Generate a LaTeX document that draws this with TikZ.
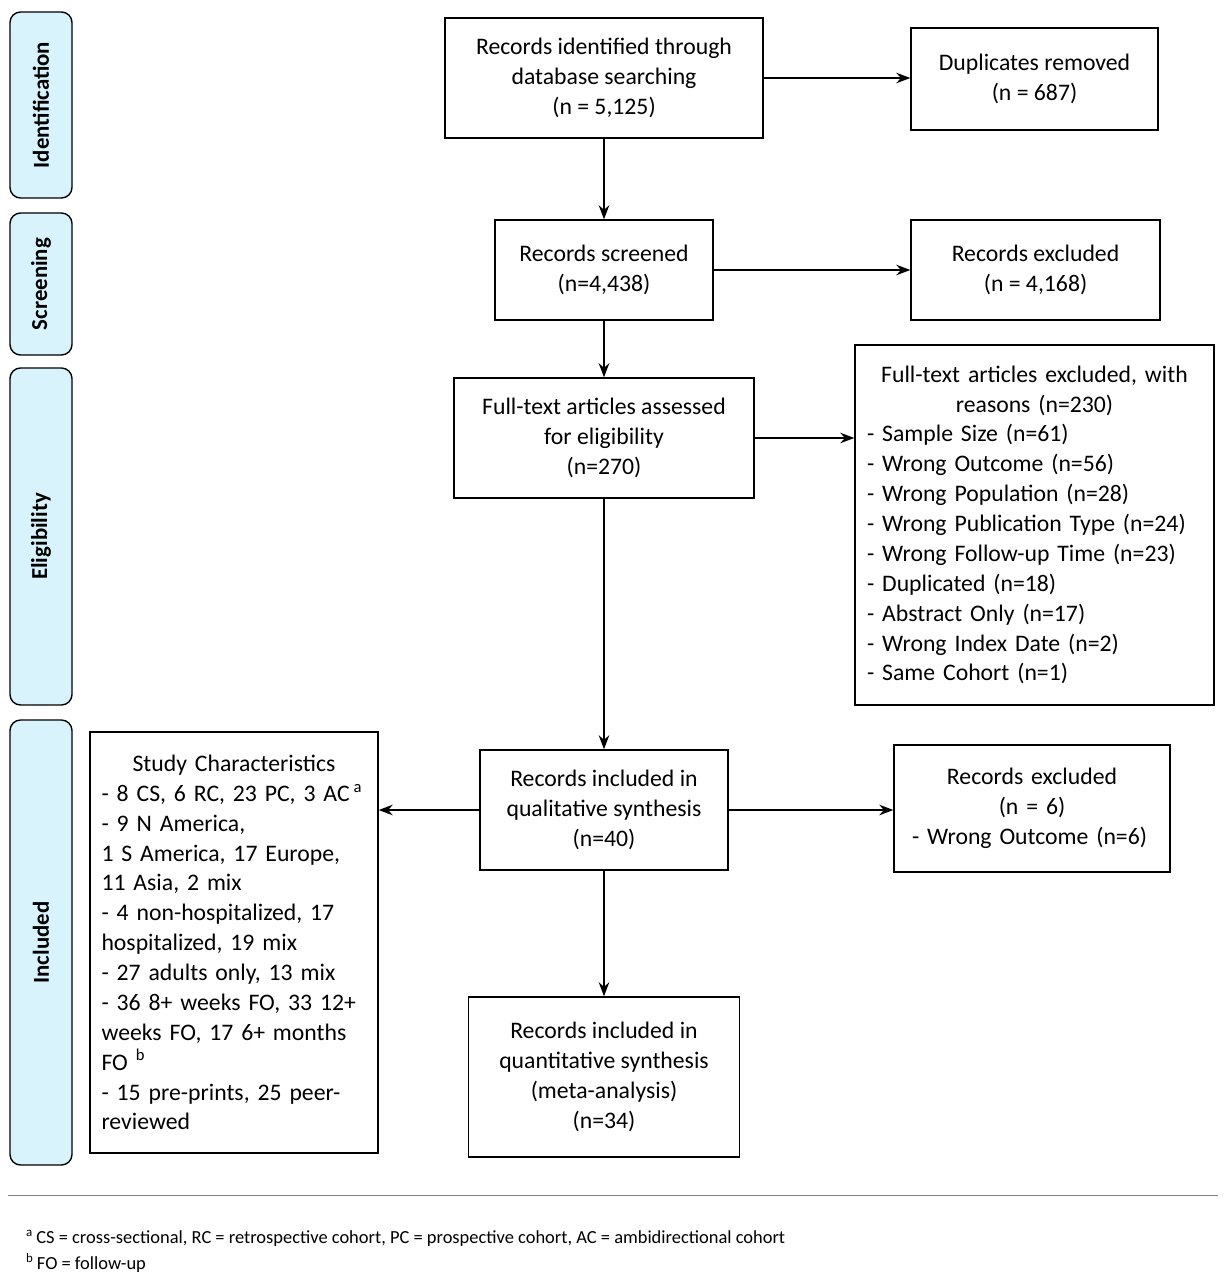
\documentclass[tikz,border=0pt]{standalone}
\usepackage{fontspec}
\setmainfont{Carlito}
\usetikzlibrary{arrows.meta}
\begin{document}
\begin{tikzpicture}[x=0.02cm,y=-0.02cm,
  box/.style={draw,thick,align=center,font=\fontsize{13.5}{17}\selectfont,inner sep=0pt},
  lbox/.style={box,align=left,font=\fontsize{13.5}{17}\selectfont\raggedright},
  stage/.style={draw,thick,rounded corners=6pt,fill=cyan!15,inner sep=0pt},
  stagetext/.style={rotate=90,font=\fontsize{13}{15}\selectfont\bfseries},
  arr/.style={thick,-{Stealth[length=8pt]}}]
\useasboundingbox (0,0) rectangle (1225,1280);

% bandes de gauche
\foreach \ya/\yb/\lbl in {12/198/Identification,213/355/Screening,368/705/Eligibility,720/1165/Included}{
  \node[stage,minimum width=62*0.02cm,minimum height={(\yb-\ya)*0.02cm}] (s\lbl) at (41,{(\ya+\yb)/2}) {};
  \node[stagetext] at (s\lbl) {\lbl};
}

% boites
\node[box,minimum width=6.36cm,minimum height=2.4cm] (ident) at (604,78)
  {Records identified through\\ database searching\\ (n = 5,125)};
\node[box,minimum width=4.94cm,minimum height=2.04cm] (dup) at (1034.5,79)
  {Duplicates removed\\ (n = 687)};
\node[box,minimum width=4.36cm,minimum height=2cm] (screen) at (604,270)
  {Records screened\\ (n=4,438)};
\node[box,minimum width=4.98cm,minimum height=2cm] (excl) at (1035.5,270)
  {Records excluded\\ (n = 4,168)};
\node[box,minimum width=6cm,minimum height=2.4cm] (full) at (604,438)
  {Full-text articles assessed\\ for eligibility\\ (n=270)};
\node[lbox,text width=6.7cm,minimum width=7.18cm,minimum height=7.2cm] (fullex) at (1034.5,525)
  {{\centering Full-text articles excluded, with\\ reasons (n=230)\par}
   - Sample Size (n=61)\\ - Wrong Outcome (n=56)\\ - Wrong Population (n=28)\\
   - Wrong Publication Type (n=24)\\ - Wrong Follow-up Time (n=23)\\ - Duplicated (n=18)\\
   - Abstract Only (n=17)\\ - Wrong Index Date (n=2)\\ - Same Cohort (n=1)};
\node[box,minimum width=4.96cm,minimum height=2.4cm] (qual) at (604,810)
  {Records included in\\ qualitative synthesis\\ (n=40)};
\node[lbox,text width=4.8cm,minimum width=5.52cm,minimum height=2.54cm] (exsix) at (1032,808.5)
  {{\centering Records excluded\\ (n = 6)\par}- Wrong Outcome (n=6)};
\node[lbox,text width=5.3cm,minimum width=5.76cm,minimum height=8.42cm] (study) at (234,942.5)
  {{\centering Study Characteristics\par}
   - 8 CS, 6 RC, 23 PC, 3 AC\,\textsuperscript{a}\\ - 9 N America,\\ 1 S America, 17 Europe,\\
   11 Asia, 2 mix\\ - 4 non-hospitalized, 17\\ hospitalized, 19 mix\\ - 27 adults only, 13 mix\\
   - 36 8+ weeks FO, 33 12+\\ weeks FO, 17 6+ months\\ FO \textsuperscript{b}\\
   - 15 pre-prints, 25 peer-\\ reviewed};
\node[box,minimum width=5.42cm,minimum height=3.2cm] (quant) at (604,1077)
  {Records included in\\ quantitative synthesis\\ (meta-analysis)\\ (n=34)};

% fleches
\draw[arr] (ident) -- (screen);
\draw[arr] (screen) -- (full);
\draw[arr] (full) -- (qual);
\draw[arr] (qual) -- (quant);
\draw[arr] (ident.east) -- (ident.east -| dup.west);
\draw[arr] (screen) -- (excl);
\draw[arr] (full) -- (full -| fullex.west);
\draw[arr] (qual.west) -- (qual.west -| study.east);
\draw[arr] (qual.east) -- (qual.east -| exsix.west);

% notes
\draw[gray] (8,1195) -- (1218,1195);
\node[anchor=west,font=\fontsize{10.5}{12}\selectfont] (nota) at (20,1238)
  {\textsuperscript{a}\,CS = cross-sectional, RC = retrospective cohort, PC = prospective cohort, AC = ambidirectional cohort};
\node[anchor=west,font=\fontsize{10.5}{12}\selectfont] (notb) at (20,1263)
  {\textsuperscript{b}\,FO = follow-up};
\end{tikzpicture}
\end{document}
